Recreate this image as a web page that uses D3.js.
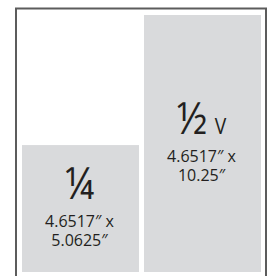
<!DOCTYPE html>
<html>
<head>
<meta charset="utf-8">
<script src="https://cdn.jsdelivr.net/npm/d3@7"></script>
<style>
  html, body { margin: 0; padding: 0; background: #fff; }
  svg { display: block; }
</style>
</head>
<body>
<svg id="chart"></svg>
<script>
// ad sizes
const sizeKeys = ["quarter", "halfV"];
const sizeFractions = ["¼", "½"];
const sizeSuffixes = ["", " V"];
const sizeWidths = ["4.6517″ x", "4.6517″ x"];
const sizeHeightLabels = ["5.0625″", "10.25″"];
const sizeHeights = [5.0625, 10.25];

const width = 272;
const height = 276;

const colors = {
  frame: "#5c5c5c",
  block: "#d9dadc",
  text: "#231f20"
};

const svg = d3.select("#chart")
  .attr("width", width)
  .attr("height", height);

const x = d3.scaleBand()
  .domain(sizeKeys)
  .range([22, 261])
  .paddingInner(5 / 122);

const y = d3.scaleLinear()
  .domain([0, d3.max(sizeHeights)])
  .range([272, 15]);

// page frame (open at the bottom)
svg.append("path")
  .attr("d", `M16,${height} V8.5 H266 V${height}`)
  .attr("fill", "none")
  .attr("stroke", colors.frame)
  .attr("stroke-width", 2);

// blocks
svg.selectAll(".block")
  .data(sizeKeys)
  .enter()
  .append("rect")
  .attr("class", "block")
  .attr("x", d => x(d))
  .attr("y", (d, i) => y(sizeHeights[i]))
  .attr("width", x.bandwidth())
  .attr("height", (d, i) => y(0) - y(sizeHeights[i]))
  .attr("fill", colors.block);

// labels, anchored a bit above the vertical middle of each block
const labels = svg.selectAll(".label")
  .data(sizeKeys)
  .enter()
  .append("g")
  .attr("class", "label")
  .attr("transform", (d, i) => {
    const mid = (y(sizeHeights[i]) + y(0)) / 2;
    return `translate(${x(d) + x.bandwidth() / 2 - 1}, ${mid})`;
  })
  .attr("fill", colors.text)
  .attr("text-anchor", "middle")
  .style("font-family", "'Open Sans', 'Noto Sans', sans-serif");

const title = labels.append("text")
  .attr("y", -10)
  .attr("transform", "scale(0.92,1)");

title.append("tspan")
  .style("font-size", "43px")
  .text((d, i) => sizeFractions[i]);

title.append("tspan")
  .attr("dx", (d, i) => sizeSuffixes[i] ? 3 : 0)
  .style("font-size", "21px")
  .text((d, i) => sizeSuffixes[i]);

labels.append("text")
  .attr("y", 18)
  .style("font-size", "16px")
  .text((d, i) => sizeWidths[i]);

labels.append("text")
  .attr("y", 37)
  .style("font-size", "16px")
  .text((d, i) => sizeHeightLabels[i]);
</script>
</body>
</html>
